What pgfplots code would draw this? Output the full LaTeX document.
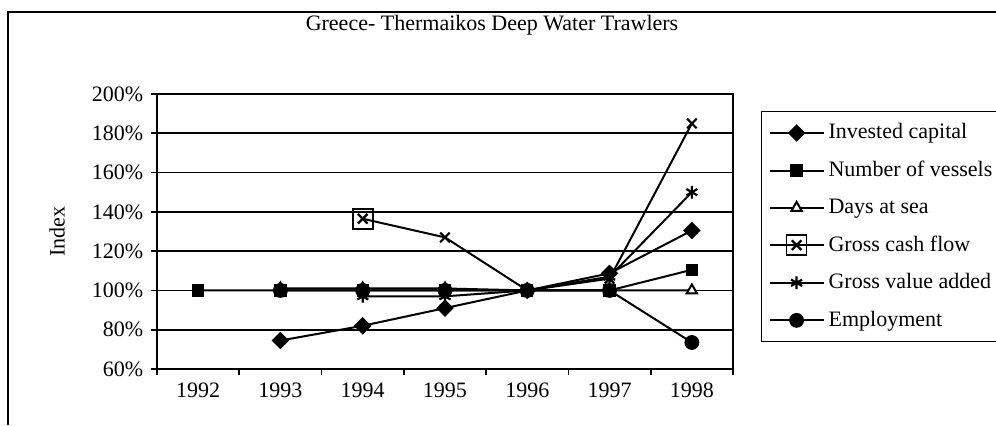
\documentclass[border=0pt]{standalone}
\usepackage{fontspec}
\setmainfont{Liberation Serif}
\usepackage{pgfplots}
\pgfplotsset{compat=1.18}
\begin{document}
\fontsize{11}{13}\selectfont
\begin{tikzpicture}
\useasboundingbox (0,0) rectangle (498pt,212.5pt);
\draw[line width=0.8pt] (4pt,0) -- (4pt,206.5pt) -- (498pt,206.5pt);
\node[font=\fontsize{11}{13}\selectfont] at (246pt,200pt) {Greece- Thermaikos Deep Water Trawlers};
\begin{axis}[
  at={(78.5pt,28pt)}, anchor=south west,
  scale only axis, width=288pt, height=137.5pt,
  xmin=-0.5, xmax=6.5, ymin=60, ymax=200,
  xtick={0,...,6}, xticklabels={1992,1993,1994,1995,1996,1997,1998},
  minor xtick={-0.5,0.5,...,6.5},
  ytick={60,80,...,200},
  xtick pos=bottom, ytick pos=left,
  yticklabel={\pgfmathprintnumber{\tick}\%},
  /pgf/number format/assume math mode=true,
  tick align=outside, major tick length=3pt, minor tick length=3pt,
  major x tick style={draw=none},
  minor x tick style={draw=black, line width=0.8pt},
  ytick style={draw=black, line width=0.8pt},
  tick label style={font=\fontsize{11}{13}\selectfont},
  ymajorgrids, grid style={black, line width=0.8pt},
  axis line style={line width=0.9pt},
  ylabel={Index},
  every axis y label/.style={at={(axis description cs:-0.1736,0.5)}, rotate=90, anchor=center, font=\fontsize{11}{13}\selectfont},
  legend style={draw=black, line width=0.6pt, at={(1.0486,0.938)}, anchor=north west,
    font=\fontsize{11}{13}\selectfont, inner xsep=3.5pt, inner ysep=4pt, row sep=5.5pt,
    cells={anchor=west}},
  legend cell align=left,
  legend image code/.code={\draw[mark repeat=2,mark phase=2] plot coordinates {(0pt,0pt) (13.5pt,0pt) (27pt,0pt)};},
  every axis plot/.append style={black, line width=1pt, mark options={solid, line width=0.8pt}},
  clip=false,
]
\addplot[mark=square*, mark size=2.6pt, mark options={rotate=45, fill=black}] coordinates {(1,74.5) (2,82) (3,91) (4,100) (5,108.7) (6,130.5)};
\addlegendentry{\makebox[90pt][l]{Invested capital}}
\addplot[mark=square*, mark size=2.6pt, mark options={fill=black}] coordinates {(0,100) (1,100) (2,100) (3,100) (4,100) (5,100) (6,110.5)};
\addlegendentry{Number of vessels}
\addplot[mark=triangle*, mark size=3pt, mark options={fill=white}] coordinates {(1,101) (2,101) (3,101) (4,100) (5,100) (6,100)};
\addlegendentry{Days at sea}
\addplot[mark=x, mark size=3.4pt, mark options={line width=1.1pt},
  legend image code/.code={\draw[mark repeat=2,mark phase=2] plot coordinates {(0pt,0pt) (13.5pt,0pt) (27pt,0pt)}; \draw[line width=0.8pt] (8.5pt,-5pt) rectangle (18.5pt,5pt);}]
  coordinates {(2,136.5) (3,127) (4,100) (5,106) (6,185)};
\addlegendentry{Gross cash flow}
\addplot[mark=asterisk, mark size=3.2pt, mark options={line width=1.1pt}] coordinates {(2,97) (3,97) (4,100) (5,107) (6,150)};
\addlegendentry{Gross value added}
\addplot[mark=*, mark size=3.2pt, mark options={fill=black}] coordinates {(1,100) (2,100) (3,100) (4,100) (5,100) (6,73.5)};
\addlegendentry{Employment}
\addplot[only marks, mark=square, mark size=5pt, forget plot] coordinates {(2,136.5)};
\end{axis}
\end{tikzpicture}
\end{document}
